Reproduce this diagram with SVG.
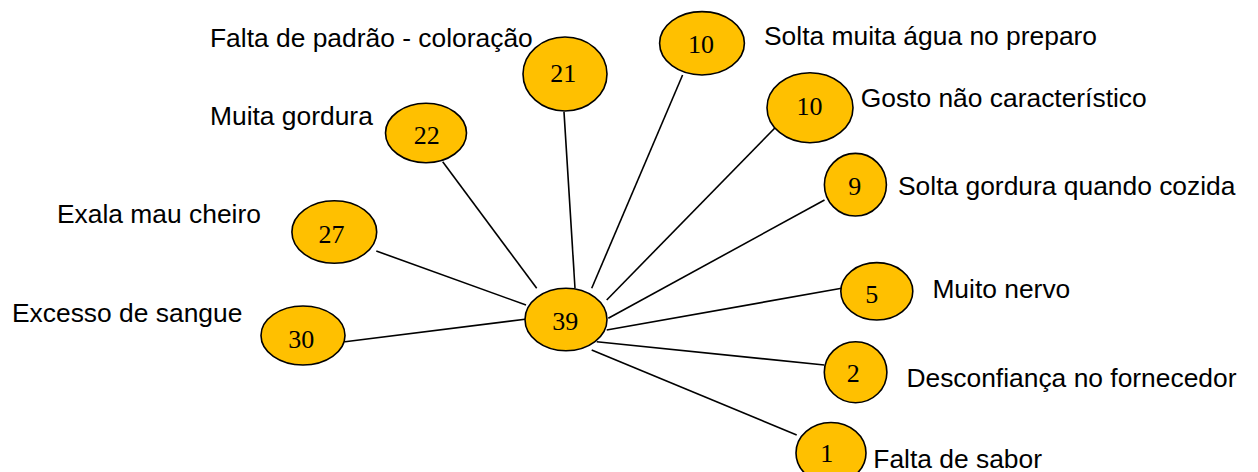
<svg xmlns="http://www.w3.org/2000/svg" width="1258" height="472" viewBox="0 0 1258 472">
<style>
.n{fill:#FFC000;stroke:#000;stroke-width:1.6}
.v{font-family:"Liberation Serif","Times New Roman",serif;font-size:26px;text-anchor:middle;fill:#000}
.t{font-family:"Liberation Sans",Arial,sans-serif;font-size:26.4px;fill:#000}
.c line{stroke:#000;stroke-width:1.6}
</style>
<rect width="1258" height="472" fill="#fff"/>
<g class="c" id="connectors">
<line x1="442.7" y1="161.7" x2="536.7" y2="288.3"/>
<line x1="564" y1="111.7" x2="575" y2="288.3"/>
<line x1="682.6" y1="75" x2="591.7" y2="288.3"/>
<line x1="780" y1="122.7" x2="606.7" y2="300"/>
<line x1="824.5" y1="200" x2="608.3" y2="318.3"/>
<line x1="841.6" y1="288.3" x2="606.7" y2="330"/>
<line x1="824.3" y1="365" x2="596.7" y2="341.7"/>
<line x1="796.7" y1="435" x2="591.7" y2="350"/>
<line x1="376.3" y1="251" x2="526" y2="305"/>
<line x1="345" y1="341.7" x2="525" y2="319.3"/>
</g>
<g id="n39"><ellipse class="n" cx="566" cy="319.5" rx="41" ry="31.2"/><text class="v" x="565.3" y="330">39</text></g>
<g id="n21"><ellipse class="n" cx="565" cy="74" rx="42" ry="37"/><text class="v" x="563.3" y="82">21</text><text class="t" x="210" y="46.5">Falta de padrão - coloração</text></g>
<g id="n22"><ellipse class="n" cx="426" cy="133" rx="40.5" ry="29.7"/><text class="v" x="426.7" y="144">22</text><text class="t" x="210" y="125">Muita gordura</text></g>
<g id="n10a"><ellipse class="n" cx="702" cy="43.3" rx="42.4" ry="31.7"/><text class="v" x="701" y="53.3">10</text><text class="t" x="764" y="45">Solta muita água no preparo</text></g>
<g id="n10b"><ellipse class="n" cx="810" cy="107.7" rx="43" ry="35"/><text class="v" x="809.5" y="115">10</text><text class="t" x="860.7" y="106.7">Gosto não característico</text></g>
<g id="n9"><ellipse class="n" cx="855.4" cy="184.7" rx="31" ry="31.3"/><text class="v" x="854.8" y="195">9</text><text class="t" x="898" y="195">Solta gordura quando cozida</text></g>
<g id="n27"><ellipse class="n" cx="334.3" cy="232" rx="42.4" ry="31.3"/><text class="v" x="331.4" y="242.7">27</text><text class="t" x="57" y="223.3">Exala mau cheiro</text></g>
<g id="n30"><ellipse class="n" cx="303" cy="335.5" rx="42" ry="29.5"/><text class="v" x="301.2" y="348">30</text><text class="t" x="12" y="321.7">Excesso de sangue</text></g>
<g id="n5"><ellipse class="n" cx="876.8" cy="291.3" rx="36" ry="28.7"/><text class="v" x="871.8" y="303">5</text><text class="t" x="932.4" y="298.3">Muito nervo</text></g>
<g id="n2"><ellipse class="n" cx="855.6" cy="372.2" rx="31.3" ry="30.5"/><text class="v" x="853.2" y="381.7">2</text><text class="t" x="906.4" y="386.7">Desconfiança no fornecedor</text></g>
<g id="n1"><ellipse class="n" cx="831" cy="453" rx="35" ry="30.5"/><text class="v" x="826.7" y="461.7">1</text><text class="t" x="873.3" y="468.3">Falta de sabor</text></g>
</svg>
